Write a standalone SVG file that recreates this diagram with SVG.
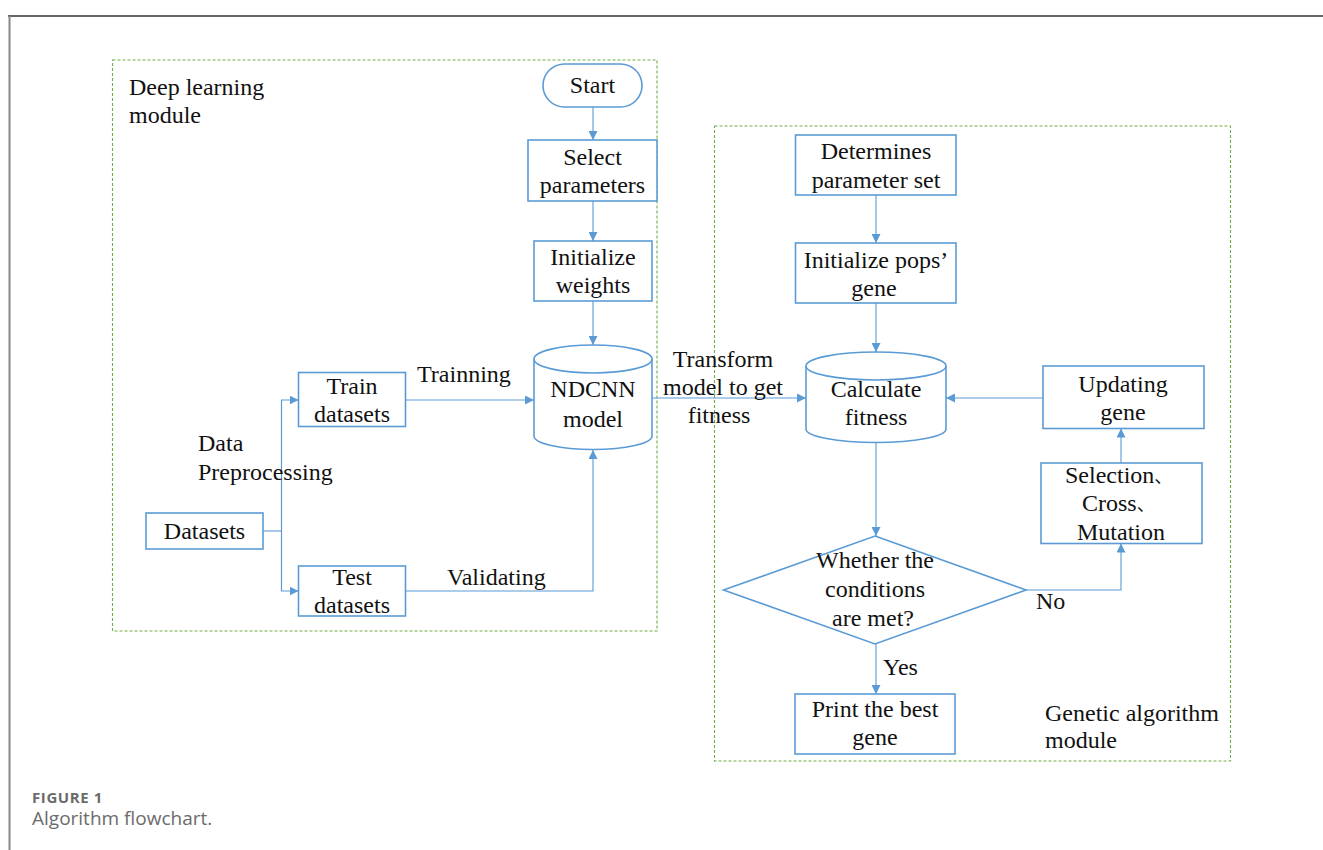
<svg xmlns="http://www.w3.org/2000/svg" width="1323" height="850" viewBox="0 0 1323 850">
<style>
.box{fill:#fff;stroke:#5B9BD5;stroke-width:1.6}
.cyl{fill:#fff;stroke:#5B9BD5;stroke-width:1.6}
.con{fill:none;stroke:#5B9BD5;stroke-width:1.1}
.mod{fill:none;stroke:#70AD47;stroke-width:1.1;stroke-dasharray:3 2}
.t{font-family:"Liberation Serif","Times New Roman",serif;font-size:24px;fill:#111}
.c{text-anchor:middle}
.cjk{font-family:"Liberation Serif","Noto Sans CJK SC",serif;font-size:18px}
</style>
<defs>
<marker id="ah" viewBox="0 0 10 10" refX="10" refY="5" markerWidth="9" markerHeight="9" markerUnits="userSpaceOnUse" orient="auto">
<path d="M0,0 L10,5 L0,10 z" fill="#5B9BD5"/>
</marker>
</defs>
<rect width="1323" height="850" fill="#fff"/>
<line x1="8" y1="16" x2="1323" y2="16" stroke="#333" stroke-width="1.5"/>
<line x1="9.5" y1="16" x2="9.5" y2="850" stroke="#888" stroke-width="2"/>

<g id="module-deep-learning">
<rect class="mod" x="112.5" y="60" width="544.5" height="571"/>
<text class="t" x="129" y="95">Deep learning</text>
<text class="t" x="129" y="123">module</text>
</g>
<g id="module-genetic">
<rect class="mod" x="714.5" y="126" width="516" height="635"/>
<text class="t" x="1045" y="721">Genetic algorithm</text>
<text class="t" x="1045" y="748">module</text>
</g>

<g id="connectors">
<line class="con" x1="593" y1="107" x2="593" y2="140" marker-end="url(#ah)"/>
<line class="con" x1="593" y1="201" x2="593" y2="241" marker-end="url(#ah)"/>
<line class="con" x1="593" y1="301" x2="593" y2="345" marker-end="url(#ah)"/>
<polyline class="con" points="263,531 281.5,531"/>
<polyline class="con" points="281.5,591 281.5,400 298.5,400" marker-end="url(#ah)"/>
<polyline class="con" points="281.5,400 281.5,591 298.5,591" marker-end="url(#ah)"/>
<line class="con" x1="406" y1="400" x2="534" y2="400" marker-end="url(#ah)"/>
<polyline class="con" points="406,591 593,591 593,450" marker-end="url(#ah)"/>
<line class="con" x1="652" y1="398" x2="806" y2="398" marker-end="url(#ah)"/>
<line class="con" x1="876" y1="195" x2="876" y2="243" marker-end="url(#ah)"/>
<line class="con" x1="876" y1="303" x2="876" y2="352" marker-end="url(#ah)"/>
<line class="con" x1="1043" y1="398" x2="946" y2="398" marker-end="url(#ah)"/>
<line class="con" x1="876" y1="443" x2="876" y2="536" marker-end="url(#ah)"/>
<polyline class="con" points="1026,590 1121,590 1121,543.5" marker-end="url(#ah)"/>
<line class="con" x1="1121" y1="463" x2="1121" y2="428.5" marker-end="url(#ah)"/>
<line class="con" x1="876" y1="644" x2="876" y2="694" marker-end="url(#ah)"/>
<text class="t" x="417" y="382">Trainning</text>
<text class="t" x="447" y="585">Validating</text>
<text class="t" x="198" y="451">Data</text>
<text class="t" x="198" y="480">Preprocessing</text>
<text class="t c" x="723" y="367">Transform</text>
<text class="t c" x="723" y="395">model to get</text>
<text class="t c" x="719" y="423">fitness</text>
<text class="t" x="1036" y="609">No</text>
<text class="t" x="883" y="675">Yes</text>
</g>

<g id="start">
<rect class="box" x="543" y="64" width="99" height="43" rx="21.5"/>
<text class="t c" x="592.5" y="93">Start</text>
</g>
<g id="select-parameters">
<rect class="box" x="528" y="140" width="129" height="61"/>
<text class="t c" x="592.5" y="165">Select</text>
<text class="t c" x="592.5" y="193">parameters</text>
</g>
<g id="initialize-weights">
<rect class="box" x="534" y="241" width="118" height="60"/>
<text class="t c" x="593" y="265">Initialize</text>
<text class="t c" x="593" y="293">weights</text>
</g>
<g id="train-datasets">
<rect class="box" x="298.5" y="372.5" width="107" height="54"/>
<text class="t c" x="352" y="394">Train</text>
<text class="t c" x="352" y="422">datasets</text>
</g>
<g id="test-datasets">
<rect class="box" x="298.5" y="566" width="107" height="50"/>
<text class="t c" x="352" y="585">Test</text>
<text class="t c" x="352" y="613">datasets</text>
</g>
<g id="datasets">
<rect class="box" x="146" y="513" width="117" height="36"/>
<text class="t c" x="204.5" y="539">Datasets</text>
</g>
<g id="ndcnn-model">
<path class="cyl" d="M534,359 A59,14 0 0 1 652,359 L652,436 A59,13.5 0 0 1 534,436 Z"/>
<path class="cyl" fill="none" d="M534,359 A59,14 0 0 0 652,359"/>
<text class="t c" x="593" y="397">NDCNN</text>
<text class="t c" x="593" y="427">model</text>
</g>
<g id="determines-parameter-set">
<rect class="box" x="795.5" y="135" width="160.5" height="60"/>
<text class="t c" x="876" y="159">Determines</text>
<text class="t c" x="876" y="188">parameter set</text>
</g>
<g id="initialize-pops-gene">
<rect class="box" x="795.5" y="243" width="160.5" height="60"/>
<text class="t c" x="876" y="268">Initialize pops’</text>
<text class="t c" x="874" y="296">gene</text>
</g>
<g id="calculate-fitness">
<path class="cyl" d="M806,366 A70,14 0 0 1 946,366 L946,429 A70,13.5 0 0 1 806,429 Z"/>
<path class="cyl" fill="none" d="M806,366 A70,14 0 0 0 946,366"/>
<text class="t c" x="876" y="397">Calculate</text>
<text class="t c" x="876" y="425">fitness</text>
</g>
<g id="updating-gene">
<rect class="box" x="1043" y="366" width="161" height="62.5"/>
<text class="t c" x="1123" y="392">Updating</text>
<text class="t c" x="1123" y="420">gene</text>
</g>
<g id="selection-cross-mutation">
<rect class="box" x="1041" y="463" width="161" height="80.5"/>
<text class="t" x="1065" y="483">Selection<tspan class="cjk">、</tspan></text>
<text class="t" x="1082" y="511">Cross<tspan class="cjk">、</tspan></text>
<text class="t c" x="1121" y="540">Mutation</text>
</g>
<g id="condition">
<polygon class="box" points="875,536 1026,590 875,644 723.5,590"/>
<text class="t c" x="875" y="568">Whether the</text>
<text class="t c" x="875" y="597">conditions</text>
<text class="t c" x="873" y="626">are met?</text>
</g>
<g id="print-best-gene">
<rect class="box" x="795" y="694" width="160" height="60"/>
<text class="t c" x="875" y="717">Print the best</text>
<text class="t c" x="875" y="745">gene</text>
</g>

<g id="caption">
<text x="32" y="803" font-family="'Open Sans',Lato,sans-serif" font-size="15" font-weight="bold" letter-spacing="0.6" fill="#6b6b6b">FIGURE 1</text>
<text x="32" y="825" font-family="'Open Sans',Lato,sans-serif" font-size="19" fill="#6b6b6b">Algorithm flowchart.</text>
</g>
</svg>
